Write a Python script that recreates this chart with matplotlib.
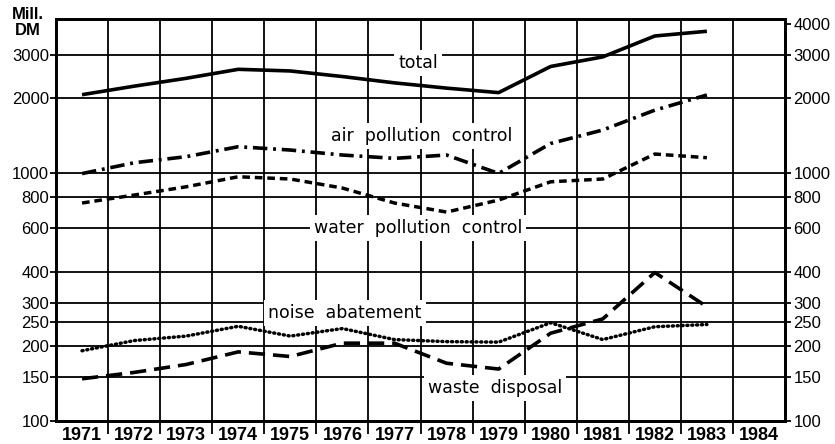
import numpy as np
import matplotlib.pyplot as plt
from matplotlib.ticker import FixedLocator, NullLocator, NullFormatter

years = [1971, 1972, 1973, 1974, 1975, 1976, 1977, 1978, 1979, 1980, 1981, 1982, 1983]

total = [2070, 2240, 2410, 2620, 2580, 2450, 2310, 2200, 2110, 2690, 2940, 3570, 3730]
air = [995, 1100, 1164, 1277, 1238, 1182, 1146, 1182, 996, 1316, 1491, 1793, 2064]
water = [757, 815, 880, 966, 946, 870, 757, 696, 778, 922, 946, 1193, 1153]
noise = [192, 211, 220, 241, 220, 236, 213, 209, 208, 249, 213, 240, 245]
waste = [148, 157, 169, 190, 182, 206, 206, 171, 162, 226, 258, 397, 289]

year_labels = [str(y) for y in range(1971, 1985)]
left_ticks = [100, 150, 200, 250, 300, 400, 600, 800, 1000, 2000, 3000]
right_ticks = [100, 150, 200, 250, 300, 400, 600, 800, 1000, 2000, 3000, 4000]

fig = plt.figure(figsize=(8.35, 4.44), dpi=100)
ax = fig.add_axes([56 / 835, 23 / 444, 729 / 835, 402 / 444])

# kurven
ax.plot(years, total, color='black', lw=2.6, zorder=4, solid_capstyle='butt')
ax.plot(years, air, color='black', lw=2.6, zorder=4, dashes=[4, 1.6, 0.8, 1.6])
ax.plot(years, water, color='black', lw=2.5, zorder=4, dashes=[2.2, 1.4])
ax.plot(years, noise, color='black', lw=2.5, zorder=4, dashes=[0.3, 1.1], dash_capstyle='round')
ax.plot(years, waste, color='black', lw=2.6, zorder=4, dashes=[4.5, 2.2])

ax.set_yscale('log')
ax.set_ylim(100, 4180)
ax.set_xlim(1970.5, 1984.5)

# y-achse links
ax.yaxis.set_major_locator(FixedLocator(left_ticks))
ax.yaxis.set_major_formatter(plt.FixedFormatter([str(t) for t in left_ticks]))
ax.yaxis.set_minor_locator(NullLocator())
ax.yaxis.set_minor_formatter(NullFormatter())
ax.tick_params(axis='y', which='major', length=4, width=1.3, pad=1,
               labelsize=12, labelfontfamily='Liberation Sans')

# y-achse rechts
ax2 = ax.twinx()
ax2.set_yscale('log')
ax2.set_ylim(100, 4180)
ax2.yaxis.set_major_locator(FixedLocator(right_ticks))
ax2.yaxis.set_major_formatter(plt.FixedFormatter([str(t) for t in right_ticks]))
ax2.yaxis.set_minor_locator(NullLocator())
ax2.yaxis.set_minor_formatter(NullFormatter())
ax2.tick_params(axis='y', which='major', length=4, width=1.3, pad=2,
                labelsize=12, labelfontfamily='Liberation Sans')

# x-achse: striche zwischen den jahren, jahreszahlen in der mitte
ax.xaxis.set_major_locator(FixedLocator(np.arange(1971.5, 1984, 1.0)))
ax.xaxis.set_major_formatter(NullFormatter())
ax.xaxis.set_minor_locator(FixedLocator(np.arange(1971, 1985)))
ax.xaxis.set_minor_formatter(plt.FixedFormatter(year_labels))
ax.tick_params(axis='x', which='major', length=9, width=1.3, direction='out')
ax.tick_params(axis='x', which='minor', length=0, pad=4, labelsize=13)
for lab in ax.get_xticklabels(minor=True):
    lab.set_fontweight('bold')
    lab.set_fontfamily('Liberation Sans')

ax.grid(True, which='major', color='black', lw=1.3, zorder=1)
ax.set_axisbelow(True)

for a in (ax, ax2):
    for s in a.spines.values():
        s.set_linewidth(2)

box = dict(facecolor='white', edgecolor='none', pad=3)
ax.text(1977.45, 2780, 'total', ha='center', va='center', fontsize=12.5,
        bbox=box, zorder=3)
ax.text(1977.53, 1410, 'air  pollution  control', ha='center', va='center',
        fontsize=12.5, bbox=box, zorder=3)
ax.text(1977.45, 600, 'water  pollution  control', ha='center', va='center',
        fontsize=12.5, bbox=box, zorder=3)
ax.text(1976.05, 273, 'noise  abatement', ha='center', va='center',
        fontsize=12.5, bbox=box, zorder=3)
ax.text(1978.93, 136, 'waste  disposal', ha='center', va='center',
        fontsize=12.5, bbox=box, zorder=3)

fig.text(28 / 835, 1 - 7 / 444, 'Mill.\nDM', ha='center', va='top', fontsize=12,
         fontweight='bold', family='Liberation Sans', linespacing=1.05)

fig.savefig('out.png', dpi=100)
